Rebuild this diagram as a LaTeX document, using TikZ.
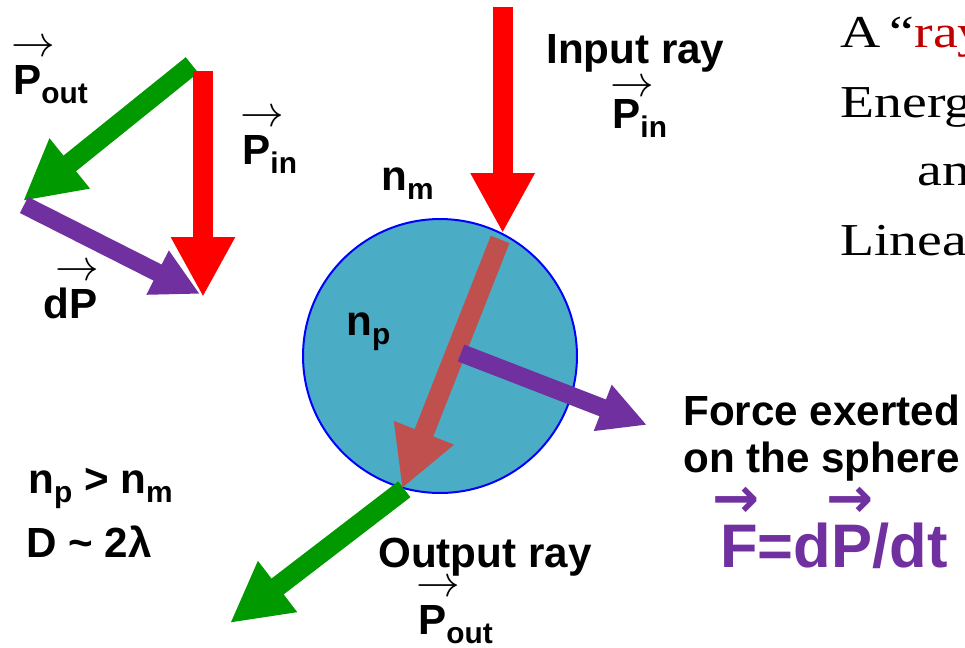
\documentclass[tikz,border=0pt]{standalone}
\usepackage{amsmath}
\usepackage{fontspec}
\setmainfont{Liberation Sans}
\newfontfamily\bookfont[FakeStretch=1.22]{Liberation Serif}
\newfontfamily\arrowfont{DejaVu Sans}
\usepackage{xcolor}
\usetikzlibrary{arrows.meta,calc}

\definecolor{rayred}{HTML}{FF0000}
\definecolor{raygreen}{HTML}{009900}
\definecolor{forcepurple}{HTML}{7030A0}
\definecolor{innerred}{HTML}{C0504D}
\definecolor{spherefill}{HTML}{4BACC6}
\definecolor{sphereedge}{HTML}{0000FF}
\definecolor{notered}{HTML}{C00000}

% thin vector arrow laid over a label: [raise]{shift}{text}
\newcommand\vecarrow[3][0.9em]{\makebox[0pt][l]{\hspace{#2}\raisebox{#1}{$\rightarrow$}}#3}
% heavy arrow for the formula
\newcommand\boldvec[2][-0.08em]{\makebox[0pt][l]{\hspace{#1}\raisebox{0.8em}{\arrowfont\bfseries\fontsize{32}{32}\selectfont →}}#2}
\newcommand\lowsub[1]{\raisebox{-0.22em}{\fontsize{17}{17}\selectfont #1}}

\begin{document}
\begin{tikzpicture}[x=0.02cm, y=-0.02cm,
  lbl/.style={font=\fontsize{24}{28}\selectfont\bfseries, inner sep=0pt, anchor=base west},
  serifline/.style={font=\bookfont\fontsize{26}{30}\selectfont, inner sep=0pt, anchor=base west},
  sphere/.style={circle, draw=sphereedge, line width=0.04cm, fill=spherefill,
                 minimum size=5.48cm, inner sep=0pt},
  fat/.style={line width=0.4cm, -{Triangle[length=1.2cm, width=1.2cm]}},
  slim/.style={line width=0.36cm, -{Triangle[length=0.95cm, width=0.92cm]}}
]
  \useasboundingbox (0,0) rectangle (965,647);

  % momentum triangle
  \coordinate (tritop)   at (203,71);
  \coordinate (tritip)   at (203,297);
  \coordinate (trigreen) at (192,65);
  \coordinate (trileft)  at (23,201);
  \coordinate (tridp)    at (24,205);
  \coordinate (tridptip) at (200,294);
  \draw[fat, raygreen]     (trigreen) -- (trileft);
  \draw[slim, forcepurple] (tridp) -- (tridptip);
  \draw[fat, rayred]       (tritop) -- (tritip);

  % sphere and rays
  \node[sphere] (sph) at (440,356) {};
  \coordinate (raystart)  at (sph.63 |- 0,7);
  \coordinate (innerbeg)  at ($(sph.63)!0.025!(sph.-106)$);
  \coordinate (outtip)    at (230,623);
  \coordinate (forcebeg)  at (461,353);
  \coordinate (forcetip)  at (647,425);
  \draw[fat, rayred]       (raystart) -- (sph.63);
  \draw[fat, raygreen]     (sph.-105) -- (outtip);
  \draw[fat, innerred]     (innerbeg) -- (sph.-106);
  \draw[slim, forcepurple] (forcebeg) -- (forcetip);

  % labels
  \node[lbl] (pouttri) at (13,94)   {\vecarrow{-0.04em}{P}\lowsub{out}};
  \node[lbl] (pintri)  at (242,164) {\vecarrow{-0.04em}{P}\lowsub{in}};
  \node[lbl] (dptri)   at (43,318)  {\vecarrow{0.28em}{dP}};
  \node[lbl] (nmlab)   at (381,190) {n\lowsub{m}};
  \node[lbl] (nplab)   at (346,335) {n\lowsub{p}};
  \node[lbl] (inlab)   at (546,63)  {Input ray};
  \node[lbl] (invec)   at (612,128) {\vecarrow[0.75em]{-0.04em}{P}\lowsub{in}};
  \node[lbl] (outlab)  at (378,567) {Output ray};
  \node[lbl] (outvec)  at (418,634) {\vecarrow{-0.04em}{P}\lowsub{out}};
  \node[lbl] (forcea)  at (683,425) {Force exerted};
  \node[lbl] (forceb)  at (683,472) {on the sphere};
  \node[lbl, font=\fontsize{35}{40}\selectfont\bfseries, text=forcepurple] (formula) at (720,567)
    {\boldvec[-0.12em]{F}=d\boldvec{P}/dt};
  \node[lbl] (cond)    at (28,493)  {n\lowsub{p} > n\lowsub{m}};
  \node[lbl] (sizelab) at (26,557)  {D \textasciitilde{} 2λ};

  % text running off the right edge
  \begin{scope}
    \clip (0,0) rectangle (965,647);
    \node[serifline] (notea) at (840,47)  {A\hspace{0.2em}“\textcolor{notered}{ray}};
    \node[serifline] (noteb) at (840,117) {Energ};
    \node[serifline] (notec) at (917,185) {an};
    \node[serifline] (noted) at (840,255) {Linea};
  \end{scope}
\end{tikzpicture}
\end{document}
